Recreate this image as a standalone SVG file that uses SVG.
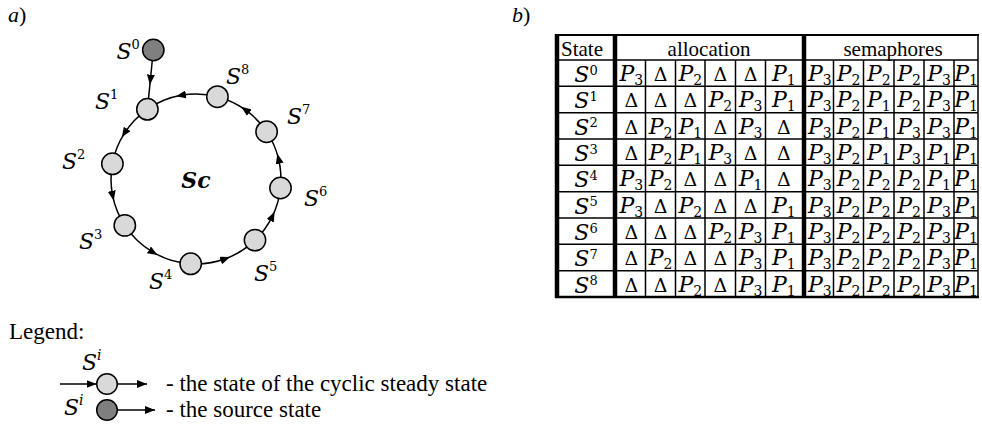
<svg xmlns="http://www.w3.org/2000/svg" width="982" height="428" viewBox="0 0 982 428">
<style>
.t{font-family:"Liberation Serif",serif;font-size:23px;fill:#000}
.th{font-family:"Liberation Serif",serif;font-size:21px;fill:#000;text-anchor:middle}
.lbl{font-family:"DejaVu Serif",serif;font-style:italic;font-size:22px;fill:#000}
.sup{font-style:normal;font-size:13px}
.supi{font-style:italic;font-size:14px}
.m{font-family:"DejaVu Serif",serif;font-style:italic;font-size:22px;fill:#000;text-anchor:middle}
.n{font-style:normal;font-size:14px}
.ns{font-style:normal;font-size:13px}
.d{font-family:"DejaVu Serif",serif;font-size:19px;fill:#000;text-anchor:middle}
.st{font-family:"DejaVu Serif",serif;font-style:italic;font-size:22px;fill:#000;text-anchor:middle}
.cs{fill:#d9d9d9;stroke:#000;stroke-width:1.5}
.src{fill:#7f7f7f;stroke:#000;stroke-width:1.5}
.e{fill:none;stroke:#000;stroke-width:1.5;marker-mid:url(#mid)}
.le{fill:none;stroke:#000;stroke-width:1.5;marker-end:url(#end)}
.thin{stroke:#000;stroke-width:1.5}
.thick{stroke:#000;stroke-width:4.5}
</style>
<defs>
<marker id="mid" viewBox="0 0 10 8" refX="5" refY="4" markerWidth="10" markerHeight="8" markerUnits="userSpaceOnUse" orient="auto"><path d="M0,0 L10,4 L0,8 z" fill="#000"/></marker>
<marker id="end" viewBox="0 0 10 8" refX="10" refY="4" markerWidth="10" markerHeight="8" markerUnits="userSpaceOnUse" orient="auto"><path d="M0,0 L10,4 L0,8 z" fill="#000"/></marker>
</defs>

<text class="t" x="8" y="22" style="font-size:22px"><tspan style="font-style:italic">a</tspan>)</text>
<text class="t" x="512" y="22" style="font-size:22px"><tspan style="font-style:italic">b</tspan>)</text>

<g id="connectors">
<path class="e" d="M153.3 50 L150.4 79.7 L147.4 109.3"/>
<path class="e" d="M147.4 109.3 A85 85 0 0 0 124.5 133.1 A85 85 0 0 0 112.4 163.8"/>
<path class="e" d="M112.4 163.8 A85 85 0 0 0 112.7 195.8 A85 85 0 0 0 124.8 225.4"/>
<path class="e" d="M124.8 225.4 A85 85 0 0 0 153.2 252.4 A85 85 0 0 0 190.7 263.8"/>
<path class="e" d="M190.7 263.8 A85 85 0 0 0 225.4 258.8 A85 85 0 0 0 255 240.1"/>
<path class="e" d="M255 240.1 A85 85 0 0 0 272.4 216.3 A85 85 0 0 0 280.5 188"/>
<path class="e" d="M280.5 188 A85 85 0 0 0 278.5 158.7 A85 85 0 0 0 266.6 131.7"/>
<path class="e" d="M266.6 131.7 A85 85 0 0 0 245.2 109.7 A85 85 0 0 0 217.4 96.7"/>
<path class="e" d="M217.4 96.7 A85 85 0 0 0 181 95.3 A85 85 0 0 0 147.4 109.3"/>
</g>

<g id="s0"><circle class="src" cx="153.3" cy="50" r="10.7"/><text class="lbl" x="116.5" y="59">S<tspan class="sup" dy="-10">0</tspan></text></g>
<g id="s1"><circle class="cs" cx="147.4" cy="109.3" r="10.7"/><text class="lbl" x="95" y="108.5">S<tspan class="sup" dy="-10">1</tspan></text></g>
<g id="s2"><circle class="cs" cx="112.4" cy="163.8" r="10.7"/><text class="lbl" x="62" y="168.5">S<tspan class="sup" dy="-10">2</tspan></text></g>
<g id="s3"><circle class="cs" cx="124.8" cy="225.4" r="10.7"/><text class="lbl" x="79" y="248.5">S<tspan class="sup" dy="-10">3</tspan></text></g>
<g id="s4"><circle class="cs" cx="190.7" cy="263.8" r="10.7"/><text class="lbl" x="149" y="288.5">S<tspan class="sup" dy="-10">4</tspan></text></g>
<g id="s5"><circle class="cs" cx="255" cy="240.1" r="10.7"/><text class="lbl" x="254" y="280.5">S<tspan class="sup" dy="-10">5</tspan></text></g>
<g id="s6"><circle class="cs" cx="280.5" cy="188" r="10.7"/><text class="lbl" x="304" y="205.5">S<tspan class="sup" dy="-10">6</tspan></text></g>
<g id="s7"><circle class="cs" cx="266.6" cy="131.7" r="10.7"/><text class="lbl" x="287" y="123.5">S<tspan class="sup" dy="-10">7</tspan></text></g>
<g id="s8"><circle class="cs" cx="217.4" cy="96.7" r="10.7"/><text class="lbl" x="226" y="83.5">S<tspan class="sup" dy="-10">8</tspan></text></g>
<g id="sc"><text x="196" y="188" font-family="DejaVu Serif, serif" font-style="italic" font-weight="bold" font-size="22" text-anchor="middle">Sc</text></g>

<g id="legend">
<text class="t" x="9" y="339">Legend:</text>
<text class="lbl" x="82" y="370">S<tspan class="supi" dy="-10">i</tspan></text>
<path class="le" d="M60 384 L96.5 384"/>
<circle class="cs" cx="107" cy="384" r="10.3"/>
<path class="le" d="M117.3 384 L147 384"/>
<text class="t" x="166" y="390.5">- the state of the cyclic steady state</text>
<text class="lbl" x="64" y="415">S<tspan class="supi" dy="-10">i</tspan></text>
<circle class="src" cx="107" cy="410" r="10.3"/>
<path class="le" d="M117.3 410 L155 410"/>
<text class="t" x="166" y="417">- the source state</text>
</g>

<g id="table">
<rect x="557" y="35" width="421" height="262" fill="#fff" stroke="none"/>
<g class="thin">
<line x1="555" y1="35" x2="979" y2="35" stroke-width="2"/>
<line x1="555" y1="60" x2="978" y2="60"/>
<line x1="555" y1="86.33" x2="978" y2="86.33"/>
<line x1="555" y1="112.67" x2="978" y2="112.67"/>
<line x1="555" y1="139" x2="978" y2="139"/>
<line x1="555" y1="165.33" x2="978" y2="165.33"/>
<line x1="555" y1="191.67" x2="978" y2="191.67"/>
<line x1="555" y1="218" x2="978" y2="218"/>
<line x1="555" y1="244.33" x2="978" y2="244.33"/>
<line x1="555" y1="270.67" x2="978" y2="270.67"/>
<line x1="555" y1="297" x2="979" y2="297" stroke-width="2.5"/>
<line x1="978" y1="35" x2="978" y2="297"/>
<line x1="645.5" y1="60" x2="645.5" y2="297"/>
<line x1="675.5" y1="60" x2="675.5" y2="297"/>
<line x1="705" y1="60" x2="705" y2="297"/>
<line x1="735.5" y1="60" x2="735.5" y2="297"/>
<line x1="765.5" y1="60" x2="765.5" y2="297"/>
<line x1="833.5" y1="60" x2="833.5" y2="297"/>
<line x1="863.5" y1="60" x2="863.5" y2="297"/>
<line x1="894" y1="60" x2="894" y2="297"/>
<line x1="924" y1="60" x2="924" y2="297"/>
<line x1="954" y1="60" x2="954" y2="297"/>
</g>
<g class="thick">
<line x1="557" y1="34" x2="557" y2="298"/>
<line x1="615" y1="34" x2="615" y2="298"/>
<line x1="804" y1="34" x2="804" y2="298"/>
</g>
<text class="th" x="582" y="55.5">State</text>
<text class="th" x="709" y="55.5">allocation</text>
<text class="th" x="893" y="55.5">semaphores</text>

<g transform="translate(0,60)">
<text class="st" x="586" y="22">S<tspan class="ns" dy="-7.5">0</tspan></text>
<text class="m" x="631.3" y="21">P<tspan class="n" dy="4">3</tspan></text>
<text class="d" x="660.5" y="21">Δ</text>
<text class="m" x="690.3" y="21">P<tspan class="n" dy="4">2</tspan></text>
<text class="d" x="720.3" y="21">Δ</text>
<text class="d" x="750.5" y="21">Δ</text>
<text class="m" x="783.8" y="21">P<tspan class="n" dy="4">1</tspan></text>
<text class="m" x="819.8" y="21">P<tspan class="n" dy="4">3</tspan></text>
<text class="m" x="848.5" y="21">P<tspan class="n" dy="4">2</tspan></text>
<text class="m" x="878.8" y="21">P<tspan class="n" dy="4">2</tspan></text>
<text class="m" x="909" y="21">P<tspan class="n" dy="4">2</tspan></text>
<text class="m" x="939" y="21">P<tspan class="n" dy="4">3</tspan></text>
<text class="m" x="966" y="21">P<tspan class="n" dy="4">1</tspan></text>
</g>
<g transform="translate(0,86.33)">
<text class="st" x="586" y="22">S<tspan class="ns" dy="-7.5">1</tspan></text>
<text class="d" x="631.3" y="21">Δ</text>
<text class="d" x="660.5" y="21">Δ</text>
<text class="d" x="690.3" y="21">Δ</text>
<text class="m" x="720.3" y="21">P<tspan class="n" dy="4">2</tspan></text>
<text class="m" x="750.5" y="21">P<tspan class="n" dy="4">3</tspan></text>
<text class="m" x="783.8" y="21">P<tspan class="n" dy="4">1</tspan></text>
<text class="m" x="819.8" y="21">P<tspan class="n" dy="4">3</tspan></text>
<text class="m" x="848.5" y="21">P<tspan class="n" dy="4">2</tspan></text>
<text class="m" x="878.8" y="21">P<tspan class="n" dy="4">1</tspan></text>
<text class="m" x="909" y="21">P<tspan class="n" dy="4">2</tspan></text>
<text class="m" x="939" y="21">P<tspan class="n" dy="4">3</tspan></text>
<text class="m" x="966" y="21">P<tspan class="n" dy="4">1</tspan></text>
</g>
<g transform="translate(0,112.67)">
<text class="st" x="586" y="22">S<tspan class="ns" dy="-7.5">2</tspan></text>
<text class="d" x="631.3" y="21">Δ</text>
<text class="m" x="660.5" y="21">P<tspan class="n" dy="4">2</tspan></text>
<text class="m" x="690.3" y="21">P<tspan class="n" dy="4">1</tspan></text>
<text class="d" x="720.3" y="21">Δ</text>
<text class="m" x="750.5" y="21">P<tspan class="n" dy="4">3</tspan></text>
<text class="d" x="783.8" y="21">Δ</text>
<text class="m" x="819.8" y="21">P<tspan class="n" dy="4">3</tspan></text>
<text class="m" x="848.5" y="21">P<tspan class="n" dy="4">2</tspan></text>
<text class="m" x="878.8" y="21">P<tspan class="n" dy="4">1</tspan></text>
<text class="m" x="909" y="21">P<tspan class="n" dy="4">3</tspan></text>
<text class="m" x="939" y="21">P<tspan class="n" dy="4">3</tspan></text>
<text class="m" x="966" y="21">P<tspan class="n" dy="4">1</tspan></text>
</g>
<g transform="translate(0,139)">
<text class="st" x="586" y="22">S<tspan class="ns" dy="-7.5">3</tspan></text>
<text class="d" x="631.3" y="21">Δ</text>
<text class="m" x="660.5" y="21">P<tspan class="n" dy="4">2</tspan></text>
<text class="m" x="690.3" y="21">P<tspan class="n" dy="4">1</tspan></text>
<text class="m" x="720.3" y="21">P<tspan class="n" dy="4">3</tspan></text>
<text class="d" x="750.5" y="21">Δ</text>
<text class="d" x="783.8" y="21">Δ</text>
<text class="m" x="819.8" y="21">P<tspan class="n" dy="4">3</tspan></text>
<text class="m" x="848.5" y="21">P<tspan class="n" dy="4">2</tspan></text>
<text class="m" x="878.8" y="21">P<tspan class="n" dy="4">1</tspan></text>
<text class="m" x="909" y="21">P<tspan class="n" dy="4">3</tspan></text>
<text class="m" x="939" y="21">P<tspan class="n" dy="4">1</tspan></text>
<text class="m" x="966" y="21">P<tspan class="n" dy="4">1</tspan></text>
</g>
<g transform="translate(0,165.33)">
<text class="st" x="586" y="22">S<tspan class="ns" dy="-7.5">4</tspan></text>
<text class="m" x="631.3" y="21">P<tspan class="n" dy="4">3</tspan></text>
<text class="m" x="660.5" y="21">P<tspan class="n" dy="4">2</tspan></text>
<text class="d" x="690.3" y="21">Δ</text>
<text class="d" x="720.3" y="21">Δ</text>
<text class="m" x="750.5" y="21">P<tspan class="n" dy="4">1</tspan></text>
<text class="d" x="783.8" y="21">Δ</text>
<text class="m" x="819.8" y="21">P<tspan class="n" dy="4">3</tspan></text>
<text class="m" x="848.5" y="21">P<tspan class="n" dy="4">2</tspan></text>
<text class="m" x="878.8" y="21">P<tspan class="n" dy="4">2</tspan></text>
<text class="m" x="909" y="21">P<tspan class="n" dy="4">2</tspan></text>
<text class="m" x="939" y="21">P<tspan class="n" dy="4">1</tspan></text>
<text class="m" x="966" y="21">P<tspan class="n" dy="4">1</tspan></text>
</g>
<g transform="translate(0,191.67)">
<text class="st" x="586" y="22">S<tspan class="ns" dy="-7.5">5</tspan></text>
<text class="m" x="631.3" y="21">P<tspan class="n" dy="4">3</tspan></text>
<text class="d" x="660.5" y="21">Δ</text>
<text class="m" x="690.3" y="21">P<tspan class="n" dy="4">2</tspan></text>
<text class="d" x="720.3" y="21">Δ</text>
<text class="d" x="750.5" y="21">Δ</text>
<text class="m" x="783.8" y="21">P<tspan class="n" dy="4">1</tspan></text>
<text class="m" x="819.8" y="21">P<tspan class="n" dy="4">3</tspan></text>
<text class="m" x="848.5" y="21">P<tspan class="n" dy="4">2</tspan></text>
<text class="m" x="878.8" y="21">P<tspan class="n" dy="4">2</tspan></text>
<text class="m" x="909" y="21">P<tspan class="n" dy="4">2</tspan></text>
<text class="m" x="939" y="21">P<tspan class="n" dy="4">3</tspan></text>
<text class="m" x="966" y="21">P<tspan class="n" dy="4">1</tspan></text>
</g>
<g transform="translate(0,218)">
<text class="st" x="586" y="22">S<tspan class="ns" dy="-7.5">6</tspan></text>
<text class="d" x="631.3" y="21">Δ</text>
<text class="d" x="660.5" y="21">Δ</text>
<text class="d" x="690.3" y="21">Δ</text>
<text class="m" x="720.3" y="21">P<tspan class="n" dy="4">2</tspan></text>
<text class="m" x="750.5" y="21">P<tspan class="n" dy="4">3</tspan></text>
<text class="m" x="783.8" y="21">P<tspan class="n" dy="4">1</tspan></text>
<text class="m" x="819.8" y="21">P<tspan class="n" dy="4">3</tspan></text>
<text class="m" x="848.5" y="21">P<tspan class="n" dy="4">2</tspan></text>
<text class="m" x="878.8" y="21">P<tspan class="n" dy="4">2</tspan></text>
<text class="m" x="909" y="21">P<tspan class="n" dy="4">2</tspan></text>
<text class="m" x="939" y="21">P<tspan class="n" dy="4">3</tspan></text>
<text class="m" x="966" y="21">P<tspan class="n" dy="4">1</tspan></text>
</g>
<g transform="translate(0,244.33)">
<text class="st" x="586" y="22">S<tspan class="ns" dy="-7.5">7</tspan></text>
<text class="d" x="631.3" y="21">Δ</text>
<text class="m" x="660.5" y="21">P<tspan class="n" dy="4">2</tspan></text>
<text class="d" x="690.3" y="21">Δ</text>
<text class="d" x="720.3" y="21">Δ</text>
<text class="m" x="750.5" y="21">P<tspan class="n" dy="4">3</tspan></text>
<text class="m" x="783.8" y="21">P<tspan class="n" dy="4">1</tspan></text>
<text class="m" x="819.8" y="21">P<tspan class="n" dy="4">3</tspan></text>
<text class="m" x="848.5" y="21">P<tspan class="n" dy="4">2</tspan></text>
<text class="m" x="878.8" y="21">P<tspan class="n" dy="4">2</tspan></text>
<text class="m" x="909" y="21">P<tspan class="n" dy="4">2</tspan></text>
<text class="m" x="939" y="21">P<tspan class="n" dy="4">3</tspan></text>
<text class="m" x="966" y="21">P<tspan class="n" dy="4">1</tspan></text>
</g>
<g transform="translate(0,270.67)">
<text class="st" x="586" y="22">S<tspan class="ns" dy="-7.5">8</tspan></text>
<text class="d" x="631.3" y="21">Δ</text>
<text class="d" x="660.5" y="21">Δ</text>
<text class="m" x="690.3" y="21">P<tspan class="n" dy="4">2</tspan></text>
<text class="d" x="720.3" y="21">Δ</text>
<text class="m" x="750.5" y="21">P<tspan class="n" dy="4">3</tspan></text>
<text class="m" x="783.8" y="21">P<tspan class="n" dy="4">1</tspan></text>
<text class="m" x="819.8" y="21">P<tspan class="n" dy="4">3</tspan></text>
<text class="m" x="848.5" y="21">P<tspan class="n" dy="4">2</tspan></text>
<text class="m" x="878.8" y="21">P<tspan class="n" dy="4">2</tspan></text>
<text class="m" x="909" y="21">P<tspan class="n" dy="4">2</tspan></text>
<text class="m" x="939" y="21">P<tspan class="n" dy="4">3</tspan></text>
<text class="m" x="966" y="21">P<tspan class="n" dy="4">1</tspan></text>
</g>
</g>
</svg>
